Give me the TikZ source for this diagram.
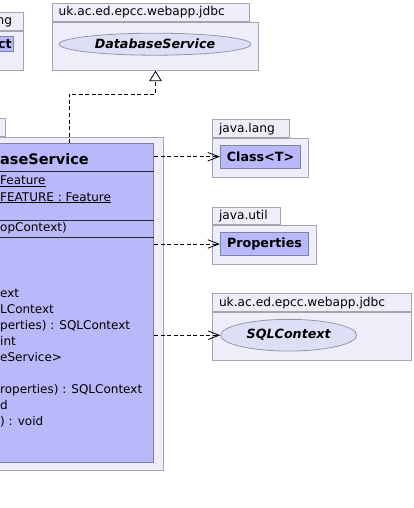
\documentclass[tikz,border=0pt]{standalone}
\usepackage{fontspec}
\setmainfont{DejaVu Sans}
\usetikzlibrary{arrows.meta,shapes.geometric}

\definecolor{pkgfill}{RGB}{238,238,251}
\definecolor{pkgline}{RGB}{165,165,178}
\definecolor{clsfill}{RGB}{184,184,250}
\definecolor{clsline}{RGB}{128,128,168}
\definecolor{ifcfill}{RGB}{222,222,246}
\definecolor{ifcline}{RGB}{150,150,168}

\begin{document}
\begin{tikzpicture}
		[
			x=1pt, y=-1pt,
			pkgtab/.style={draw=pkgline, fill=pkgfill, line width=1pt, minimum height=17.6pt, inner sep=0pt},
			pkgbody/.style={draw=pkgline, fill=pkgfill, line width=1pt, inner sep=0pt},
			pkgname/.style={font=\fontsize{12.2}{14}\selectfont, inner sep=0pt},
			clsbox/.style={draw=clsline, fill=clsfill, line width=0.8pt, inner sep=0pt},
			clsname/.style={font=\fontsize{12.7}{14}\selectfont\bfseries},
			ifc/.style={ellipse, draw=ifcline, fill=ifcfill, line width=0.8pt, inner sep=0pt, font=\fontsize{12.7}{14}\selectfont\bfseries\itshape},
			member/.style={font=\fontsize{12}{14}\selectfont, inner sep=0pt, anchor=base west},
			sep/.style={draw=black!85, line width=0.8pt},
			dep/.style={draw=black, line width=0.8pt, dash pattern=on 4pt off 2.5pt, -{Straight Barb[length=11pt, width=8.5pt]}},
			realize/.style={draw=black, line width=0.8pt, dash pattern=on 4pt off 2.5pt, -{Triangle[open, fill=white, length=10.5pt, width=12.5pt]}},
		]

		\useasboundingbox (0,0) rectangle (414,508);
		\clip (0,0) rectangle (414,508);

		% Packages
		\foreach \name/\text/\x/\y/\tw/\bw/\bh in
		{
			jdbcA/uk.ac.ed.epcc.webapp.jdbc/52/3/197/206/48,
			langL/java.lang/-50.5/12/73.8/73.8/39.5,
			lang/java.lang/212.3/119.3/77/96/39,
			util/java.util/212.3/206.7/68/104/39,
			jdbcB/uk.ac.ed.epcc.webapp.jdbc/212.3/293.3/198.7/198.7/48,
			main//-200/118.3/205/363/333
		}
		{
			\node[pkgtab, minimum width=\tw pt, anchor=north west] (\name-tab) at (\x,\y) {};
			\node[pkgname, anchor=base west] at ([xshift=6.5pt, yshift=5.8pt]\name-tab.south west) {\text};
			\node[pkgbody, minimum width=\bw pt, minimum height=\bh pt, anchor=north west] (\name) at (\name-tab.south west) {};
		}

		% Classes and interfaces
		\node[clsbox, minimum width=60pt, minimum height=15pt, anchor=east] (object) at (14,44.2) {};
		\node[clsname, anchor=base east, inner sep=0pt] (objname) at (12,48.3) {ct};
		\node[ifc, minimum width=192pt, minimum height=22pt] (dbsvc) at (155,44.2) {DatabaseService};
		\node[clsbox, clsname, minimum width=80.4pt, minimum height=23.3pt] (classT) at (260.5,156.7) {Class<T>};
		\node[clsbox, clsname, minimum width=88.4pt, minimum height=23.4pt] (props) at (264.5,244) {Properties};
		\node[ifc, minimum width=136pt, minimum height=31.7pt] (sqlctx) at (288.7,335.2) {SQLContext};

		% Main class
		\node[clsbox, minimum width=340pt, minimum height=319pt, anchor=north east] (cls) at (154,143) {};
		\foreach \y in {171,220,237.3}
			\draw[sep] (cls.west |- 0,\y) -- (cls.east |- 0,\y);
		\node[member, font=\fontsize{14.5}{16}\selectfont\bfseries] (title) at (0,164.3) {aseService};
		\node[member] (attr1) at (0,184.3) {\underline{Feature}};
		\node[member] (attr2) at (0,201) {\underline{FEATURE : Feature}};
		\node[member] (ctor) at (0,231.5) {opContext)};
		\foreach \y/\t [count=\i] in
		{
			297.5/ext,
			313.5/LContext,
			329.5/{perties) : SQLContext},
			345.5/int,
			361.5/{eService>},
			393.5/{roperties) : SQLContext},
			409.5/d,
			425.5/{) : void}
		}
			\node[member] (op\i) at (0,\y) {\t};

		% Dependencies
		\foreach \t in {classT, props, sqlctx}
			\draw[dep] (\t -| cls.east) -- (\t.west);

		% Realization
		\coordinate (bend) at (69,94);
		\draw[realize] (cls.north -| bend) -- (bend) -| (jdbcA.south);

\end{tikzpicture}
\end{document}
